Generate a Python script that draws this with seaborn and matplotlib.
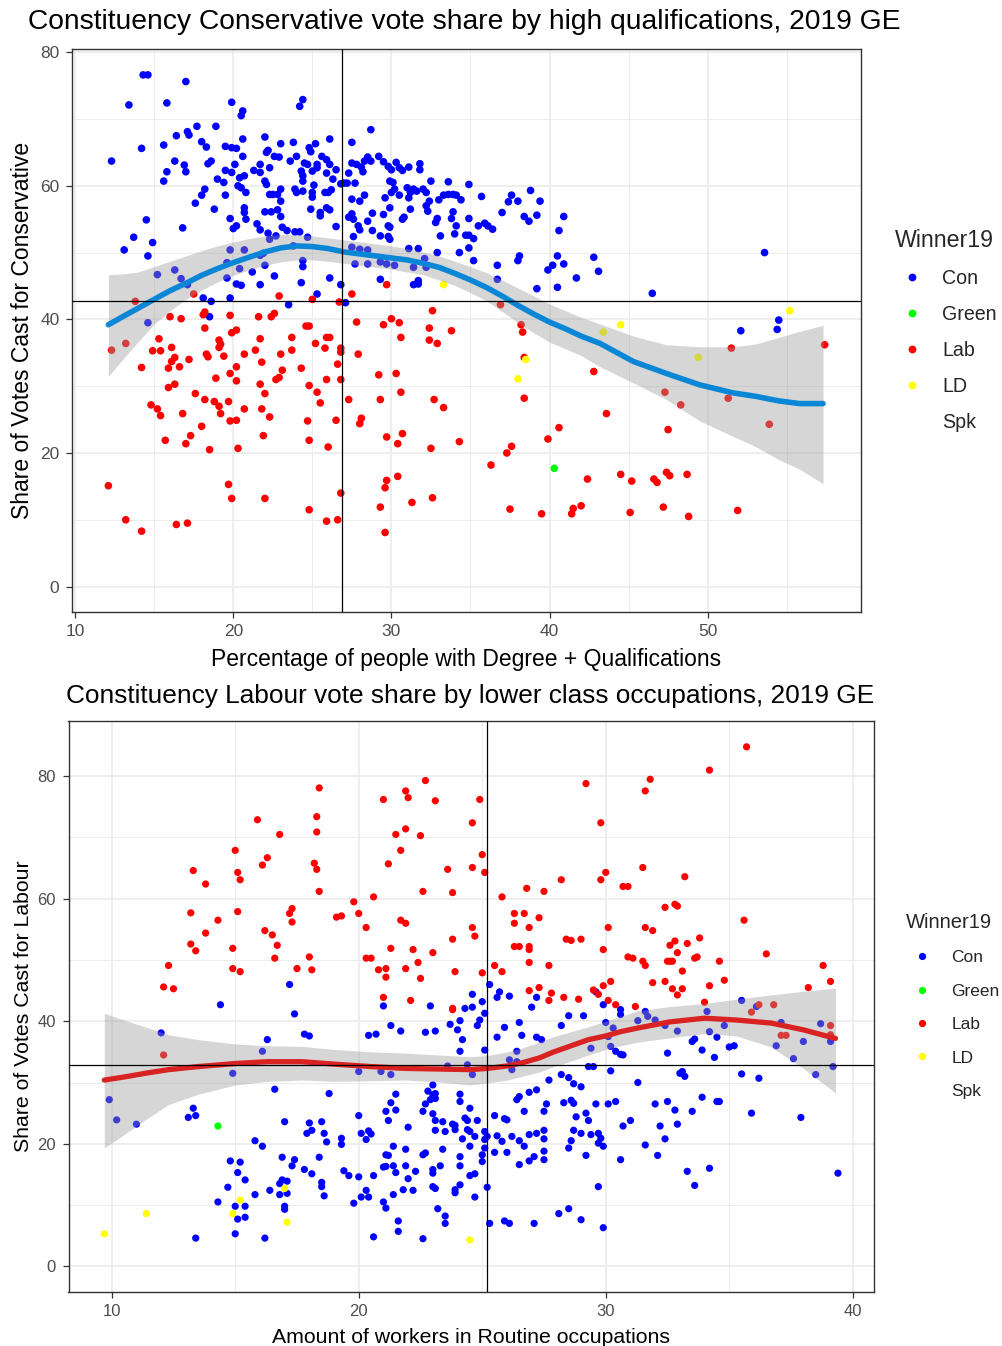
import numpy as np
import pandas as pd
import matplotlib
matplotlib.use("Agg")
import matplotlib.pyplot as plt
import seaborn as sns
from matplotlib.lines import Line2D

sns.set_theme(style="white")
plt.rcParams["font.family"] = ["Liberation Sans", "DejaVu Sans"]

# ---------------- DATA: top panel (x = % degree+, y = Con share) ----------------
top_con = [
    (14.3,76.6),(14.6,76.6),(17.0,75.6),(13.4,72.1),(15.8,72.4),(19.9,72.5),(20.6,71.2),(20.5,70.5),(24.4,72.9),(24.2,71.9),
    (12.3,63.7),(14.2,65.6),(15.6,66.1),(16.4,67.5),(17.1,68.1),(17.2,67.6),(17.7,68.9),(18.9,68.9),(18.0,66.6),(18.3,65.8),
    (16.3,63.7),(15.8,62.1),(15.6,60.7),(16.9,63.1),(17.0,62.1),(18.4,63.3),(18.6,63.7),(19.5,65.9),(19.9,65.7),(20.2,65.6),
    (20.6,67.0),(20.6,64.4),(20.1,63.2),(19.5,62.3),(19.9,62.0),(19.0,61.0),(19.4,60.5),(18.2,59.5),(18.0,58.6),(17.6,57.4),
    (18.8,56.5),(19.5,58.6),(20.4,61.2),(20.7,61.5),(20.3,60.0),(20.5,59.7),(20.8,59.0),(20.7,56.7),(20.7,56.0),(19.8,55.1),
    (20.8,55.0),(20.2,54.0),(20.0,53.6),(21.3,62.3),(21.7,62.0),(21.7,63.2),(22.0,67.3),(22.2,65.3),(22.1,65.0),(22.6,64.4),
    (22.9,64.3),(23.0,66.3),(23.8,66.5),(22.3,62.7),(22.0,60.7),(22.1,60.2),(22.3,58.7),(22.5,58.7),(22.8,58.7),(23.0,59.5),
    (23.0,57.7),(22.0,56.1),(22.4,56.1),(22.8,56.4),(23.0,55.4),(21.5,54.3),(21.7,53.4),(22.2,52.9),(23.1,53.8),(23.4,53.3),
    (23.9,53.1),(24.2,53.1),(24.7,52.3),(24.8,65.7),(24.9,65.1),(25.2,66.3),(23.6,63.7),(24.0,64.4),(24.5,63.4),(24.7,63.2),
    (24.3,62.2),(24.4,61.5),(24.4,60.7),(25.0,62.2),(25.3,62.7),(25.3,63.2),(25.6,64.4),(25.9,63.9),(26.1,63.2),(26.1,67.0),
    (25.9,61.9),(26.5,62.4),(26.3,61.0),(26.8,60.3),(25.1,60.1),(25.0,59.0),(23.9,59.5),(24.0,59.0),(24.4,59.2),(25.0,58.3),
    (25.8,59.0),(26.0,59.0),(26.2,59.4),(25.9,56.7),(26.1,56.4),(25.5,55.5),(25.5,56.0),(24.9,56.5),(26.5,53.9),(14.5,54.9),
    (16.8,53.7),(13.7,52.3),(14.9,51.5),(13.1,50.4),(14.6,49.5),(19.8,50.4),(20.7,50.4),(19.6,48.5),(20.4,47.6),(21.2,47.1),
    (22.0,48.1),(19.6,46.2),(20.2,45.3),(20.5,45.1),(21.7,45.2),(22.6,46.5),(24.3,45.5),(24.4,48.8),(24.4,47.9),(26.1,46.2),
    (26.8,45.2),(25.3,43.8),(23.5,42.2),(18.1,43.2),(18.6,42.7),(19.8,43.2),(18.5,40.4),(14.6,39.5),(15.2,46.7),(16.3,47.4),
    (16.7,46.1),(17.1,45.2),(21.7,49.6),(21.9,49.9),(22.3,52.0),(22.7,52.5),(23.8,51.0),
    (28.7,68.4),(27.5,66.5),(27.3,61.9),(27.0,60.4),(27.2,60.4),(27.7,60.4),(27.5,58.0),(28.0,57.7),(28.3,58.6),(27.5,63.4),
    (27.8,63.2),(28.1,62.8),(28.3,63.7),(28.5,64.3),(28.7,63.7),(28.2,62.1),(29.2,64.4),(29.5,63.6),(29.8,62.9),(30.0,62.4),
    (30.3,63.5),(30.5,62.7),(30.7,62.3),(31.1,62.8),(31.8,63.3),(31.8,62.4),(29.9,60.7),(30.1,60.5),(30.2,59.5),(30.0,59.0),
    (30.5,58.6),(29.6,58.2),(31.0,59.7),(31.2,59.0),(31.4,59.5),(31.6,59.2),(31.1,58.2),(32.0,59.5),(32.2,59.0),(32.5,60.7),
    (32.4,57.7),(32.2,57.0),(32.3,56.2),(31.2,56.5),(29.9,56.7),(29.5,55.7),(28.8,55.9),(27.5,55.8),(27.3,55.3),(27.6,55.0),
    (28.5,54.7),(27.9,54.0),(28.0,53.4),(28.8,53.3),(27.6,52.4),(29.3,52.5),(29.8,54.0),(29.9,53.8),(29.8,52.4),(29.9,52.0),
    (30.8,55.3),(30.7,55.0),(33.0,57.9),(33.3,58.6),(33.6,58.7),(33.9,58.7),(34.1,58.6),(34.4,57.9),(33.6,60.6),(34.9,60.2),
    (35.7,58.4),(32.9,55.1),(32.8,54.5),(33.8,55.1),(33.9,56.1),(34.1,54.0),(33.1,52.5),(34.0,52.8),(34.7,52.6),(34.9,52.6),
    (35.2,52.1),(34.9,55.1),(35.5,54.0),(35.9,54.4),(36.1,54.0),(36.4,53.5),(34.3,50.0),(34.9,50.7),(35.2,48.8),(37.0,56.0),
    (37.4,57.6),(37.6,58.6),(38.0,57.7),(38.8,59.3),(39.4,57.7),(38.4,55.4),(38.7,54.7),(39.2,55.6),(40.9,55.4),(40.6,53.3),
    (36.7,48.1),(36.7,46.0),(38.1,49.5),(38.0,48.8),(40.5,49.5),(40.2,48.1),(39.9,47.4),(40.9,48.3),(42.8,49.3),(43.1,47.2),
    (41.7,46.2),(39.2,44.6),(40.5,44.8),(29.3,46.0),(31.4,45.2),(31.7,45.8),(31.7,45.3),(27.1,42.5),
    (27.5,50.8),(28.0,50.5),(28.5,50.4),(27.7,48.3),(28.5,48.3),(29.3,48.6),(29.7,48.3),(30.2,48.1),(31.1,50.6),(31.7,50.6),
    (31.4,47.8),(32.1,49.1),(32.9,50.0),(32.2,47.8),
    (46.5,43.9),(53.6,50.0),(54.5,39.9),(54.4,38.5),(52.1,38.3),
]
top_lab = [
    (13.8,42.7),(17.5,43.8),(22.9,43.5),(25.0,43.0),(26.7,42.6),(16.0,40.4),(16.7,40.1),(18.1,40.7),(18.2,41.1),(19.8,40.6),
    (21.6,40.4),(22.4,40.4),(22.6,40.9),(18.2,38.7),(20.2,38.4),(19.9,38.0),(24.6,39.0),(24.8,39.0),
    (15.3,37.1),(12.3,35.4),(13.2,36.4),(14.9,35.3),(15.4,35.3),(16.1,35.8),(16.3,34.3),(16.1,33.7),(15.9,32.7),(14.2,32.8),
    (17.2,34.0),(16.6,32.9),(18.3,34.8),(18.4,34.4),(19.1,36.9),(19.2,36.3),(19.1,35.8),(19.4,34.5),(18.9,31.2),(15.9,29.8),
    (16.3,30.3),(17.6,28.9),(18.2,28.0),(18.8,27.7),(19.1,27.0),(19.2,25.9),(19.7,27.7),(14.8,27.2),(15.2,26.6),(15.4,25.6),
    (16.8,25.9),(18.0,24.0),(17.3,22.6),(17.0,21.4),(15.7,21.9),(18.5,20.5),(19.8,31.9),(20.2,32.9),(20.2,30.8),(20.7,34.8),
    (21.7,37.1),(21.4,35.4),(21.8,33.6),(23.1,32.4),(22.9,31.3),(22.7,31.0),(23.0,34.8),(23.7,37.3),(23.7,35.4),(24.3,32.7),
    (21.7,30.3),(22.0,28.9),(20.7,26.6),(20.2,24.9),(19.8,24.8),(21.8,26.6),(22.3,25.4),(21.9,22.6),(20.3,20.7),(24.8,30.1),
    (25.3,29.1),(25.5,27.5),(25.9,31.0),(25.2,36.4),(25.8,35.7),(25.9,37.3),(26.1,37.3),(26.6,33.3),(26.8,35.7),(26.8,35.1),
    (26.8,31.0),(26.5,24.9),(24.7,24.8),(24.8,21.9),(26.0,20.9),(12.1,15.1),(19.7,15.3),(19.9,13.2),(22.0,13.2),(24.8,11.5),
    (25.9,9.8),(26.6,10.0),(26.8,14.0),(13.2,10.0),(14.2,8.3),(16.4,9.3),(17.1,9.5),
    (29.7,45.2),(27.5,43.8),(32.6,41.3),(27.8,39.6),(29.5,39.2),(30.0,40.1),(30.5,39.5),(32.4,38.7),(33.8,38.3),(36.9,42.2),
    (38.2,39.2),(38.3,38.1),
    (30.6,37.3),(32.4,36.9),(32.9,36.4),(27.9,34.8),(29.2,31.7),(30.3,31.9),(30.6,29.1),(27.3,28.0),(29.3,28.0),(32.7,28.0),
    (33.3,26.8),(28.1,25.2),(28.0,24.4),(29.7,22.4),(30.7,22.9),(30.4,21.4),(32.5,20.7),(34.3,21.7),(38.4,34.3),(38.4,28.2),
    (42.8,32.2),(43.6,25.9),(40.6,23.8),(39.9,22.1),(37.6,21.0),(37.3,20.0),(36.3,18.2),(42.4,16.1),(30.4,16.5),(29.7,15.9),
    (29.6,14.8),(29.3,11.9),(31.3,12.6),(32.6,13.3),(29.6,8.1),(37.5,11.6),(39.5,10.9),(41.5,11.7),(41.4,10.9),(42.0,12.1),
    (51.5,35.7),(57.4,36.2),(47.3,29.1),(48.3,27.2),(51.3,28.2),(53.9,24.3),(47.5,23.5),(44.5,16.8),(45.2,15.8),(46.6,16.1),
    (46.8,15.6),(47.4,17.1),(47.6,16.6),(48.7,16.8),(45.1,11.1),(47.2,11.9),(48.8,10.5),(51.9,11.4),
]
top_ld = [(33.3,45.2),(55.2,41.3),(44.5,39.2),(43.4,38.1),(38.5,34.0),(38.0,31.1),(49.4,34.3)]
top_green = [(40.3,17.7)]

# loess fit (x, fit, lower, upper)
top_smooth_x  = [12.1, 13.0, 14.0, 15.0, 16.0, 17.0, 18.0, 19.0, 20.0, 21.0, 22.0, 23.0, 24.0, 25.0, 26.0, 27.0, 28.0, 29.0, 30.0, 31.0,
                 32.0, 33.0, 34.0, 35.0, 36.0, 37.0, 38.0, 39.0, 40.0, 41.0, 42.0, 43.2, 45.3, 47.4, 49.5, 51.6, 53.0, 54.5, 55.8, 57.3]
top_smooth_y  = [39.2, 40.4, 41.7, 43.0, 44.3, 45.4, 46.6, 47.6, 48.5, 49.3, 50.1, 50.7, 51.0, 50.9, 50.6, 50.1, 49.8, 49.5, 49.2, 48.9,
                 48.4, 47.8, 46.9, 45.9, 44.8, 43.5, 42.1, 40.8, 39.6, 38.6, 37.5, 36.4, 33.7, 31.9, 30.2, 29.0, 28.5, 27.8, 27.4, 27.4]
top_smooth_lo = [31.5, 34.0, 36.7, 39.3, 41.3, 43.0, 44.4, 45.6, 46.6, 47.4, 48.1, 48.6, 48.9, 48.9, 48.7, 48.4, 48.1, 47.8, 47.5, 47.1,
                 46.7, 45.9, 45.1, 44.0, 42.8, 41.2, 39.5, 38.0, 36.6, 35.6, 34.6, 32.9, 30.5, 28.0, 24.8, 22.5, 21.0, 19.0, 17.6, 15.4]
top_smooth_hi = [46.7, 46.8, 47.1, 47.9, 48.7, 49.5, 50.3, 51.0, 51.6, 52.1, 52.5, 52.7, 52.7, 52.5, 52.2, 51.9, 51.6, 51.3, 51.0, 50.6,
                 50.1, 49.5, 48.7, 47.9, 47.0, 45.9, 44.7, 43.5, 42.3, 41.3, 40.3, 39.3, 37.5, 36.2, 35.9, 35.9, 36.3, 37.3, 38.2, 39.1]
top_mean_x = 26.9
top_mean_y = 42.7

# ---------------- DATA: bottom panel (x = % routine occupations, y = Lab share) ----------------
bot_con = [
    (17.2,46.0),(14.4,42.7),
    (25.3,46.0),(25.7,44.8),(25.6,43.9),(26.1,44.1),(24.6,44.4),(25.0,43.2),(27.2,43.9),(29.6,44.8),(29.9,42.7),(21.0,42.5),
    (22.9,42.5),(24.3,42.1),(24.6,42.3),(27.0,42.3),(35.5,43.4),(36.1,42.4),
    (17.4,41.2),(17.8,37.9),(18.0,37.6),(12.0,38.1),(16.3,37.0),(16.1,35.1),(14.9,31.5),(9.9,27.2),(10.2,23.9),(11.0,23.2),
    (13.3,25.8),(13.1,24.3),(13.4,24.6),(16.6,28.9),(18.8,28.2),(17.0,23.6),(18.0,23.4),(18.5,23.6),(17.9,21.7),(18.1,22.2),
    (18.6,21.7),(18.7,20.3),(19.3,20.9),(19.3,19.9),(15.8,20.5),(16.1,19.6),(16.9,17.8),(17.4,17.4),(17.3,16.4),(18.4,17.8),
    (17.8,15.8),(18.1,15.1),(18.5,13.7),(18.5,13.0),(18.6,11.5),(19.4,15.6),(14.8,17.2),(15.2,17.0),(15.1,15.3),(15.4,14.1),
    (14.7,12.9),(15.8,11.7),(16.4,12.4),(16.9,14.1),(17.1,13.9),(16.8,13.5),(16.8,11.7),(17.1,11.9),(17.0,9.8),(17.0,9.3),
    (14.3,10.5),(15.0,9.8),(15.4,9.8),(15.1,7.7),(15.4,8.0),(15.0,5.3),(13.4,4.6),(16.2,4.6),
    (25.1,41.3),(24.9,40.2),(24.8,39.3),(23.7,39.5),(24.0,38.6),(24.1,40.1),(21.3,39.3),(21.7,38.4),(22.7,38.2),(23.1,38.4),
    (20.4,37.7),(20.7,37.9),(24.2,37.0),(24.1,35.1),(25.1,35.3),(25.9,39.0),(25.6,37.4),(26.5,39.8),(26.6,37.7),(28.5,40.9),
    (28.2,39.3),(29.1,40.9),(27.2,37.4),(27.4,37.0),(26.4,35.1),(26.2,32.1),(26.1,33.7),(26.4,33.4),(29.4,35.6),(30.0,39.8),
    (20.0,31.8),(20.9,31.8),(21.3,31.3),(24.6,31.3),(24.4,32.9),(23.6,32.7),(29.3,32.6),(29.5,32.6),(30.2,31.9),
    (28.2,31.3),(28.5,30.8),(28.7,29.8),(29.0,29.3),(27.7,30.4),(27.2,28.8),(26.9,28.4),(26.5,27.7),(26.4,27.2),(26.7,25.3),
    (27.5,25.3),(27.6,26.5),(28.3,26.7),(28.6,27.1),(28.7,26.6),(29.6,26.5),(30.1,26.5),(29.2,25.0),(29.3,23.8),(28.8,24.4),
    (28.7,22.2),(28.6,20.5),(28.5,19.3),(29.0,21.7),(29.4,21.5),(29.7,21.7),(29.8,20.9),(29.7,20.1),(29.9,19.6),(29.2,18.1),
    (29.7,13.0),(29.9,6.3),(23.0,29.6),(22.8,28.6),(23.0,28.0),(22.9,27.2),(22.7,26.5),(22.6,25.3),(23.1,28.2),(23.1,27.4),
    (21.5,28.1),(21.3,26.7),(21.5,25.5),(21.1,25.3),(21.2,23.8),(23.0,24.9),(23.1,23.8),(23.4,23.6),(20.0,24.6),(24.1,28.1),
    (24.1,26.9),(24.5,25.8),(24.3,24.2),(24.4,23.8),(23.8,23.2),(23.9,23.0),(23.9,22.3),(24.4,22.3),(24.5,22.0),(24.8,23.8),
    (23.5,22.0),(23.1,22.2),(22.0,22.7),(20.1,21.7),(20.4,22.1),(20.5,21.6),(20.3,20.7),(24.2,20.8),(24.7,21.2),
    (25.1,22.0),(25.2,21.2),(25.1,20.7),(25.1,19.3),(25.0,18.2),(25.0,17.1),(24.5,19.6),(25.5,24.6),(26.0,23.9),(25.9,24.1),
    (25.6,21.3),(25.8,20.4),(26.2,21.2),(25.5,18.6),(26.0,18.6),(26.5,20.5),(26.7,19.6),(26.9,21.5),(27.2,21.7),(27.5,22.2),
    (27.5,20.8),(27.5,18.8),(27.5,17.4),(27.1,17.9),(26.9,17.2),(26.5,16.6),(21.4,19.6),(21.2,18.1),(21.1,18.2),(21.9,19.1),
    (22.6,18.2),(22.7,18.5),(23.4,19.1),(24.1,17.9),(24.1,16.4),(23.3,16.4),(21.9,16.4),(23.0,15.8),(23.0,15.2),(22.3,15.5),
    (21.4,16.4),(21.5,15.3),(21.0,16.2),(21.1,16.3),(22.0,14.3),(19.6,14.8),(20.0,14.6),(20.6,14.8),(24.5,14.8),(24.7,15.1),
    (24.1,13.3),(23.9,12.5),(23.9,12.0),(23.0,13.0),(23.1,12.7),(25.2,12.9),(24.7,11.3),(22.2,12.4),(21.8,12.5),(21.4,11.7),
    (20.3,12.4),(20.1,11.3),(20.4,11.3),(19.8,10.3),(21.0,10.5),(21.1,9.5),(23.2,9.4),(23.5,8.2),(23.5,7.0),(21.6,7.4),
    (21.6,5.7),(20.6,4.8),(22.6,4.5),(25.3,7.0),(25.9,7.4),(26.1,7.0),(27.1,7.0),(28.1,8.6),(28.5,9.4),(29.0,7.6),
    (30.6,41.9),(30.6,41.1),(31.6,41.6),(31.7,40.8),(31.3,40.1),(32.0,40.2),(30.3,38.9),(30.1,37.5),(30.2,35.9),(30.4,35.1),
    (30.6,34.6),(30.7,34.5),(32.4,39.3),(32.9,38.4),(34.1,41.6),(34.2,38.3),(34.5,37.4),(34.8,39.3),(33.5,36.7),(33.6,37.1),
    (33.9,35.3),(34.4,34.1),(32.5,34.8),(35.0,35.8),(35.2,36.0),(37.1,39.8),(36.9,36.0),(37.6,33.9),(38.0,36.7),(38.7,39.6),
    (39.1,36.7),(39.2,32.6),(38.5,31.3),(31.3,30.0),(33.0,31.5),(33.1,31.8),(33.2,31.0),(35.5,31.4),(36.2,30.7),(30.4,26.9),
    (32.0,26.5),(32.5,26.9),(32.8,25.5),(33.5,25.3),(33.9,27.6),(34.5,26.9),(34.6,26.9),(35.9,25.0),(37.9,24.3),(30.7,22.9),
    (31.0,23.8),(32.2,22.9),(32.9,23.2),(32.4,20.8),(31.6,19.8),(30.6,17.4),(32.1,18.1),(33.3,15.5),(33.6,13.2),(34.2,16.0),
    (39.4,15.2),
]
bot_lab = [
    (18.4,78.1),(15.9,72.9),(18.3,73.4),(18.3,70.9),(16.8,70.5),(15.0,67.9),(16.3,66.7),(16.1,65.5),(18.2,65.8),(18.3,64.8),
    (13.3,64.6),(15.1,64.3),(15.2,63.1),(13.8,62.4),(18.4,61.2),(13.2,57.7),(14.3,56.5),(15.1,57.9),(17.3,58.4),(17.2,57.6),
    (17.3,56.2),(19.1,57.0),(19.3,57.2),(13.8,54.4),(16.2,54.8),(16.5,54.1),(16.7,52.4),(13.2,52.6),(13.4,51.5),(14.9,51.9),
    (16.6,50.3),(18.0,50.5),(12.3,49.1),(14.9,48.6),(15.2,48.1),(17.5,48.6),(18.1,48.4),(12.1,45.6),(12.5,45.3),
    (22.7,79.3),(21.9,77.6),(22.0,76.5),(21.0,76.2),(23.1,76.0),(24.9,76.2),(24.6,72.4),(21.5,70.5),(21.9,71.4),(22.5,70.3),
    (21.7,67.9),(21.2,65.7),(23.6,64.8),(24.6,65.1),(25.0,67.2),(25.1,64.3),(22.6,61.2),(23.8,61.0),(20.6,60.3),(19.8,59.5),
    (20.0,57.6),(21.7,56.5),(21.9,56.0),(20.3,55.3),(24.6,55.3),(24.7,53.9),(23.8,53.4),(21.3,51.9),(22.2,51.7),(23.0,51.2),
    (20.3,50.3),(20.5,50.3),(22.4,49.6),(20.8,48.4),(21.1,48.6),(21.9,48.6),(21.1,47.2),(22.5,47.0),(23.9,48.1),(25.0,47.9),
    (21.0,43.9),(22.1,43.4),(23.8,42.1),
    (29.2,78.8),(29.8,72.4),(30.0,64.3),(29.8,63.1),(28.2,63.1),(26.8,61.7),(27.5,61.2),(25.8,60.3),(26.3,57.6),(26.7,57.6),
    (27.3,56.9),(26.3,56.0),(26.9,55.3),(30.1,55.3),(28.4,53.4),(28.6,53.2),(29.0,53.4),(26.3,52.2),(26.5,52.2),(26.9,52.2),
    (26.9,51.7),(29.9,51.7),(26.9,49.6),(27.7,49.1),(25.5,49.1),(25.8,48.1),(26.9,45.0),(27.3,45.5),(27.8,44.6),(28.3,43.9),
    (28.9,43.6),(27.7,43.4),(29.5,45.1),(29.7,44.4),(29.9,45.8),(30.2,46.5),(30.1,43.4),
    (35.7,84.8),(34.2,81.0),(31.8,79.5),(31.6,77.6),(31.5,65.1),(33.2,63.6),(30.7,62.0),(30.9,62.0),(32.4,58.6),(32.8,59.1),
    (32.9,58.8),(31.6,55.3),(31.9,54.8),(35.6,56.5),(33.8,53.6),(32.6,52.4),(32.8,53.1),(33.3,52.7),(32.9,51.2),(30.9,50.5),
    (31.1,50.3),(31.5,49.8),(31.6,49.1),(32.5,49.8),(32.6,49.8),(32.7,49.8),(33.6,50.3),(33.7,50.5),(34.6,49.8),(36.5,51.0),
    (33.1,48.2),(38.8,49.1),(31.9,46.3),(32.4,46.5),(32.7,45.3),(33.1,45.3),(32.9,44.3),(34.2,45.8),(34.8,46.7),(38.2,45.5),
    (39.1,46.5),(30.4,42.7),(31.2,42.4),(34.0,43.1),(36.2,42.7),(36.8,42.7),
    (12.1,34.5),(23.8,41.9),(35.9,41.5),(37.1,37.7),(37.3,37.7),(39.1,39.3),(39.1,37.8),
]
bot_ld = [(9.7,5.3),(11.4,8.6),(14.9,8.6),(15.2,10.8),(17.0,12.7),(17.1,7.2),(24.5,4.3)]
bot_green = [(14.3,22.9)]

bot_smooth_x  = [9.7, 10.5, 11.5, 12.3, 13.5, 15.0, 16.3, 17.7, 19.0, 20.5, 21.9, 23.2, 24.5, 25.2, 26.0, 26.6, 27.3, 27.9, 28.6, 29.3,
                 30.0, 30.6, 31.3, 32.6, 34.0, 35.3, 36.7, 38.0, 39.3]
bot_smooth_y  = [30.4, 30.9, 31.6, 32.1, 32.6, 33.1, 33.4, 33.4, 33.0, 32.6, 32.3, 32.2, 32.1, 32.3, 32.7, 33.2, 34.0, 35.0, 36.0, 37.0,
                 37.6, 38.3, 38.9, 39.9, 40.5, 40.2, 39.7, 38.6, 37.2]
bot_smooth_lo = [19.3, 21.5, 24.3, 26.4, 28.1, 29.6, 30.2, 30.4, 30.2, 30.3, 30.4, 30.1, 29.6, 29.9, 30.4, 31.0, 31.7, 32.6, 33.5, 34.5,
                 35.4, 36.0, 36.6, 37.3, 38.0, 37.6, 35.8, 32.3, 28.3]
bot_smooth_hi = [41.3, 40.2, 38.9, 37.8, 37.0, 36.3, 36.0, 35.9, 35.4, 35.0, 34.8, 34.5, 34.2, 34.4, 35.0, 35.6, 36.6, 37.5, 38.3, 39.1,
                 40.0, 40.8, 41.7, 42.4, 42.9, 43.6, 44.3, 44.9, 45.4]
bot_mean_x = 25.2
bot_mean_y = 32.9

# ---------------- styling ----------------
ORDER = ["Con", "Green", "Lab", "LD", "Spk"]
PALETTE = {"Con": "#0000ff", "Green": "#00ff00", "Lab": "#ff0000", "LD": "#ffff00", "Spk": "#ffffff"}


def build_frame(con, lab, ld, green, xname, yname):
    parts = []
    for party, pts in (("Con", con), ("Lab", lab), ("LD", ld), ("Green", green)):
        arr = np.array(pts, dtype=float)
        parts.append(pd.DataFrame({xname: arr[:, 0], yname: arr[:, 1], "Winner19": party}))
    return pd.concat(parts, ignore_index=True)


def draw_panel(ax, df, xname, yname, sx, sy, slo, shi, line_color, mx, my,
               xlim, ylim, xmaj, xmin, ymaj, ymin, xlabel, ylabel,
               pt_size, line_w, tick_fs, label_fs, xpad, ypad):
    ax.set_xlim(*xlim)
    ax.set_ylim(*ylim)
    ax.set_xticks(xmaj)
    ax.set_xticks(xmin, minor=True)
    ax.set_yticks(ymaj)
    ax.set_yticks(ymin, minor=True)
    ax.grid(True, which="major", color="#ebebeb", lw=1.2)
    ax.grid(True, which="minor", color="#ebebeb", lw=0.65)
    ax.set_axisbelow(True)
    sns.scatterplot(data=df, x=xname, y=yname, hue="Winner19", hue_order=ORDER, palette=PALETTE,
                    s=pt_size, linewidth=0, legend=False, ax=ax, zorder=2)
    ax.fill_between(sx, slo, shi, color="#999999", alpha=0.4, lw=0, zorder=3)
    sns.lineplot(x=sx, y=sy, color=line_color, lw=line_w, ax=ax, zorder=4)
    ax.axvline(mx, color="black", lw=0.9, zorder=5)
    ax.axhline(my, color="black", lw=0.9, zorder=5)
    for s in ax.spines.values():
        s.set_color("#333333")
        s.set_linewidth(1.0)
        s.set_visible(True)
    ax.tick_params(which="major", length=4, width=0.9, color="#333333", labelcolor="#4d4d4d",
                   labelsize=tick_fs, pad=5, bottom=True, left=True)
    ax.tick_params(which="minor", length=0)
    ax.set_xlabel(xlabel, fontsize=label_fs, color="black", labelpad=xpad)
    ax.set_ylabel(ylabel, fontsize=label_fs, color="black", labelpad=ypad)


def add_legend(ax, fig, x_px, y_px, spacing, fs, tfs, ms, hl, htp):
    handles = [Line2D([], [], ls="", marker="o", markersize=ms, markeredgewidth=0,
                      color=PALETTE[p]) for p in ORDER]
    leg = ax.legend(handles, ORDER, title="Winner19", loc="upper left",
                    bbox_to_anchor=(x_px / 1002, 1 - y_px / 1346), bbox_transform=fig.transFigure,
                    frameon=False, fontsize=fs, title_fontsize=tfs, labelspacing=spacing,
                    handlelength=hl, handletextpad=htp, borderpad=0, borderaxespad=0,
                    alignment="left")
    return leg


fig = plt.figure(figsize=(10.02, 13.46), dpi=100)
ax1 = fig.add_axes([72 / 1002, 1 - 612 / 1346, 789 / 1002, 562.5 / 1346])
ax2 = fig.add_axes([68.5 / 1002, 1 - 1292 / 1346, 805.5 / 1002, 571.5 / 1346])

df_top = build_frame(top_con, top_lab, top_ld, top_green, "Degree", "ConShare")
df_bot = build_frame(bot_con, bot_lab, bot_ld, bot_green, "Routine", "LabShare")

draw_panel(ax1, df_top, "Degree", "ConShare", top_smooth_x, top_smooth_y, top_smooth_lo, top_smooth_hi,
           "#0a86d6", top_mean_x, top_mean_y, (9.8, 59.7), (-3.8, 80.4),
           [10, 20, 30, 40, 50], [15, 25, 35, 45, 55], [0, 20, 40, 60, 80], [10, 30, 50, 70],
           "Percentage of people with Degree + Qualifications", "Share of Votes Cast for Conservative",
           pt_size=30, line_w=4.0, tick_fs=12.5, label_fs=16.5, xpad=6, ypad=4.5)
draw_panel(ax2, df_bot, "Routine", "LabShare", bot_smooth_x, bot_smooth_y, bot_smooth_lo, bot_smooth_hi,
           "#d92222", bot_mean_x, bot_mean_y, (8.25, 40.86), (-4.2, 89.1),
           [10, 20, 30, 40], [15, 25, 35], [0, 20, 40, 60, 80], [10, 30, 50, 70],
           "Amount of workers in Routine occupations", "Share of Votes Cast for Labour",
           pt_size=27, line_w=3.8, tick_fs=12, label_fs=15.3, xpad=6, ypad=3.5)

fig.text(28 / 1002, 1 - 22 / 1346, "Constituency Conservative vote share by high qualifications, 2019 GE",
         ha="left", va="center", fontsize=20.3, color="black")
fig.text(66 / 1002, 1 - 696 / 1346, "Constituency Labour vote share by lower class occupations, 2019 GE",
         ha="left", va="center", fontsize=18.9, color="black")

add_legend(ax1, fig, 895, 229, 0.87, fs=14.1, tfs=16.7, ms=5.6, hl=1.75, htp=0.65)
add_legend(ax2, fig, 906, 913, 1.05, fs=12.5, tfs=14.5, ms=5.2, hl=1.9, htp=0.7)

fig.savefig("out.png", dpi=100)
